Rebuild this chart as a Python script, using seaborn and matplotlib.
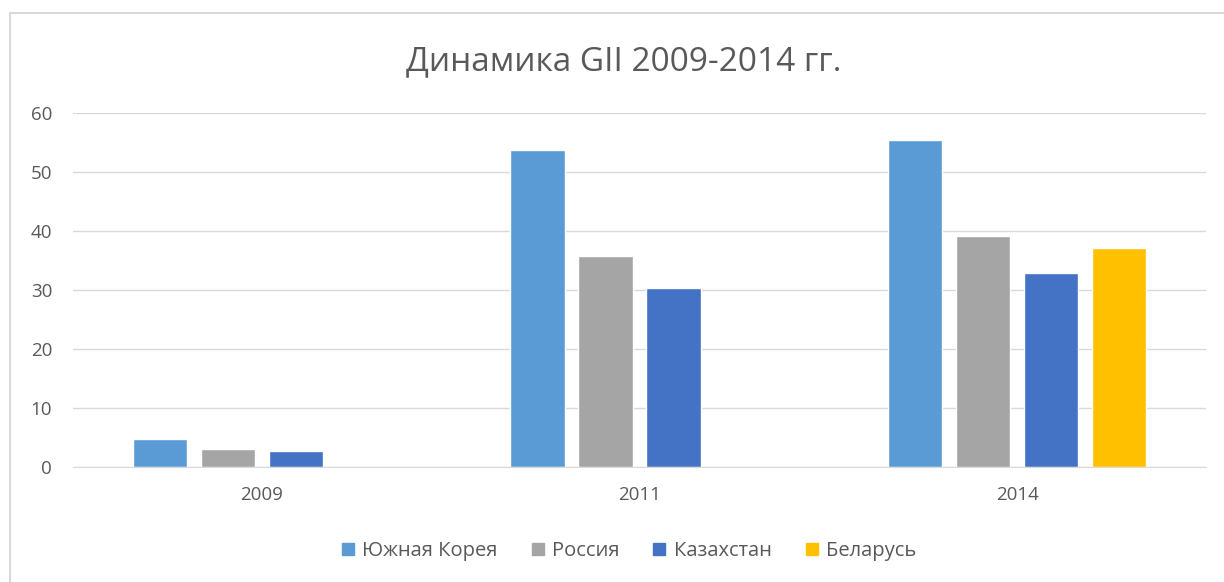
import pandas as pd
import matplotlib.pyplot as plt
import seaborn as sns
from matplotlib.lines import Line2D

# --- DATA ---
years = ['2009', '2011', '2014']
countries = ['Южная Корея', 'Россия', 'Казахстан', 'Беларусь']
korea = [4.7, 53.8, 55.4]
russia = [3.0, 35.8, 39.2]
kazakhstan = [2.7, 30.3, 32.8]
belarus = [None, None, 37.1]

palette = ['#5B9BD5', '#A5A5A5', '#4472C4', '#FFC000']
text_color = '#595959'

rows = []
for country, vals in zip(countries, [korea, russia, kazakhstan, belarus]):
    for year, v in zip(years, vals):
        rows.append({'year': year, 'country': country, 'value': v})
df = pd.DataFrame(rows)

sns.set_style("white")
plt.rcParams['font.family'] = ['Open Sans', 'DejaVu Sans']

fig = plt.figure(figsize=(12.24, 5.82), dpi=100)
ax = fig.add_axes([73 / 1224, 1 - 467 / 582, (1206 - 73) / 1224, (467 - 113) / 582])

sns.barplot(data=df, x='year', y='value', hue='country', hue_order=countries,
            order=years, palette=palette, width=0.72, gap=0.2,
            saturation=1, errorbar=None, ax=ax, legend=False)

ax.set_xlim(-0.5, 2.5)
ax.set_ylim(0, 60)
ax.set_yticks(range(0, 61, 10))
ax.yaxis.grid(True, color='#D9D9D9', linewidth=1)
ax.set_axisbelow(True)
for side in ['top', 'right', 'left']:
    ax.spines[side].set_visible(False)
ax.spines['bottom'].set_color('#D9D9D9')
ax.tick_params(axis='both', length=0, labelsize=13.5, colors=text_color)
ax.tick_params(axis='x', pad=14)
ax.tick_params(axis='y', pad=15)
ax.set_xlabel('')
ax.set_ylabel('')

fig.text(0.51, 1 - 62 / 582, 'Динамика GII 2009-2014 гг.', ha='center', va='center',
         fontsize=24, color=text_color)

handles = [Line2D([], [], marker='s', linestyle='', markersize=9,
                  markerfacecolor=c, markeredgecolor=c) for c in palette]
fig.legend(handles, countries, loc='center', bbox_to_anchor=(0.513, 1 - 551 / 582),
           ncol=4, frameon=False, fontsize=14.5, handlelength=0.8, handletextpad=0.3,
           columnspacing=1.6, labelcolor=text_color)

# chart area border
fig.add_artist(Line2D([10 / 1224, 10 / 1224], [0, 1 - 13 / 582], transform=fig.transFigure,
                      color='#D9D9D9', linewidth=1.5))
fig.add_artist(Line2D([10 / 1224, 1], [1 - 13 / 582, 1 - 13 / 582], transform=fig.transFigure,
                      color='#D9D9D9', linewidth=1.5))

fig.savefig('out.png', dpi=100)
